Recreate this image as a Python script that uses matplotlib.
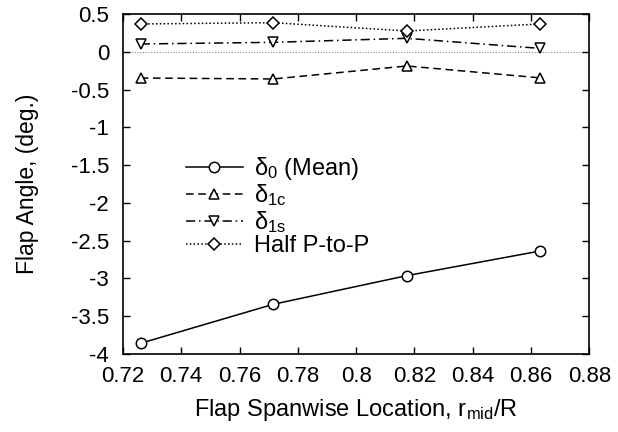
import matplotlib
matplotlib.use("Agg")
import matplotlib.pyplot as plt

plt.rcParams['font.family'] = ['Liberation Sans', 'DejaVu Sans']
plt.rcParams['mathtext.fontset'] = 'custom'
plt.rcParams['mathtext.rm'] = 'Liberation Sans'
plt.rcParams['mathtext.it'] = 'Liberation Sans'

r_mid = [0.7261, 0.7716, 0.8174, 0.8631]
delta0 = [-3.858, -3.342, -2.963, -2.637]
delta1c = [-0.347, -0.360, -0.188, -0.345]
delta1s = [0.103, 0.125, 0.178, 0.045]
half_p2p = [0.368, 0.385, 0.275, 0.368]

labels = [r'$\delta_0$ (Mean)', r'$\delta_{1c}$', r'$\delta_{1s}$', 'Half P-to-P']
xticks = [0.72, 0.74, 0.76, 0.78, 0.80, 0.82, 0.84, 0.86, 0.88]
xticklabels = ['0.72', '0.74', '0.76', '0.78', '0.8', '0.82', '0.84', '0.86', '0.88']
yticks = [0.5, 0, -0.5, -1, -1.5, -2, -2.5, -3, -3.5, -4]
yticklabels = ['0.5', '0', '-0.5', '-1', '-1.5', '-2', '-2.5', '-3', '-3.5', '-4']

fig = plt.figure(figsize=(6.18, 4.32), dpi=100)
ax = fig.add_axes([0.1989, 0.1806, 0.7547, 0.7870])

ax.axhline(0, color='#888888', lw=0.8, ls=(0, (1, 1.5)), zorder=1)

mk = dict(markersize=7.5, markerfacecolor='white', markeredgecolor='black', markeredgewidth=1.1, color='black', lw=1.1)
ax.plot(r_mid, delta0, marker='o', ls='-', label=labels[0], **mk)
ax.plot(r_mid, delta1c, marker='^', ls=(0, (5, 3)), label=labels[1], **mk)
ax.plot(r_mid, delta1s, marker='v', ls=(0, (6, 2.5, 1, 2.5)), label=labels[2], **mk)
ax.plot(r_mid, half_p2p, marker='D', ls=(0, (1, 1.5)), label=labels[3], **{**mk, 'markersize': 6.5})

ax.set_xlim(0.72, 0.88)
ax.set_ylim(-4, 0.5)
ax.set_xticks(xticks)
ax.set_xticklabels(xticklabels)
ax.set_yticks(yticks)
ax.set_yticklabels(yticklabels)
ax.tick_params(direction='in', top=True, right=True, length=5, width=1, labelsize=16)
ax.tick_params(axis='x', pad=9)
ax.tick_params(axis='y', pad=10)
for s in ax.spines.values():
    s.set_linewidth(1.2)

ax.set_xlabel(r'Flap Spanwise Location, r$_{\mathrm{mid}}$/R', fontsize=17, labelpad=7)
ax.set_ylabel('Flap Angle, (deg.)', fontsize=16.5, labelpad=23)

leg = ax.legend(loc='upper left', bbox_to_anchor=(0.115, 0.613), frameon=False, fontsize=17,
                handlelength=2.4, handletextpad=0.5, labelspacing=0.02, borderaxespad=0)

fig.savefig('out.png', dpi=100)
